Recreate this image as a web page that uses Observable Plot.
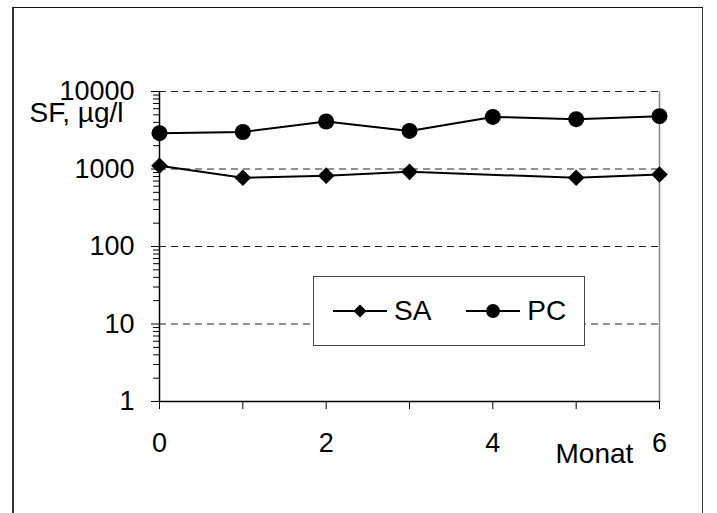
<!DOCTYPE html>
<html>
<head>
<meta charset="utf-8">
<script src="https://cdn.jsdelivr.net/npm/d3@7"></script>
<script src="https://cdn.jsdelivr.net/npm/@observablehq/plot@0.6"></script>
<style>
  html, body { margin: 0; padding: 0; background: #fff; }
  body { width: 717px; height: 513px; position: relative; overflow: hidden;
         font-family: "Liberation Sans", Arial, sans-serif; }
  #frame { position: absolute; left: 12px; top: 7px; width: 691px; height: 520px;
           border-left: 2px solid #333; border-top: 1px solid #111; border-right: 1px solid #333;
           box-sizing: border-box; }
  #chart { position: absolute; left: 0; top: 0; }
  #legend { position: absolute; left: 313px; top: 276px; width: 272px; height: 70px;
            box-sizing: border-box; border: 1px solid #444; background: #fff;
            display: flex; align-items: center; font-size: 28px; color: #000; }
  #legend .item { display: flex; align-items: center; }
  #legend svg { display: block; }
</style>
</head>
<body>
<div id="frame"></div>
<div id="chart"></div>
<div id="legend"></div>
<script>
// Serum ferritin (SF) over six months for two groups, log scale
const months = [0, 1, 2, 3, 4, 5, 6];
const pcValues = [2900, 3000, 4100, 3100, 4700, 4400, 4800];
const saMonths = [0, 1, 2, 3, 5, 6];
const saValues = [1100, 770, 820, 920, 770, 850];

const yMajorTicks = [1, 10, 100, 1000, 10000];
const yGridTicks = [10, 100, 1000, 10000];
const xLabelTicks = [0, 2, 4, 6];
const yLabel = "SF, µg/l";
const xLabel = "Monat";
const seriesNames = ["SA", "PC"];

const pcData = months.map((m, i) => ({month: m, value: pcValues[i]}));
const saData = saMonths.map((m, i) => ({month: m, value: saValues[i]}));
const yMinorTicks = [1, 10, 100, 1000].flatMap(d => d3.range(2, 10).map(k => k * d));

const font = "'Liberation Sans', Arial, sans-serif";
const tickFs = 27;
const titleFs = 28;

const chart = Plot.plot({
  width: 717,
  height: 513,
  marginLeft: 159,
  marginRight: 58,
  marginTop: 91,
  marginBottom: 112,
  style: {fontFamily: font, fontSize: tickFs + "px", color: "#000", background: "transparent", overflow: "visible"},
  x: {domain: [0, 6]},
  y: {type: "log", domain: [1, 10000]},
  marks: [
    Plot.ruleY(yGridTicks, {stroke: "#222", strokeWidth: 1, strokeDasharray: "7,5"}),
    Plot.ruleX([6], {y1: 1, y2: 10000, stroke: "#888", strokeWidth: 1.5}),
    // y axis: minor ticks, major ticks with labels
    Plot.axisY({ticks: yMinorTicks, tickSize: 6, tickFormat: () => "", stroke: "#000", label: null}),
    Plot.axisY({ticks: yMajorTicks, tickSize: 8, tickPadding: 17, tickFormat: d => String(d),
                fontSize: tickFs, fontFamily: font, stroke: "#000", label: null}),
    Plot.text([yLabel], {frameAnchor: "top-left", dx: -36, dy: 11, textAnchor: "end",
                         lineAnchor: "top", fontSize: titleFs, fontFamily: font, fill: "#000"}),
    // x axis: ticks every month, labels every second month
    Plot.axisX({ticks: months, tickSize: 8, tickFormat: () => "", stroke: "#000", label: null}),
    Plot.axisX({ticks: xLabelTicks, tickSize: 0, tickPadding: 31, tickFormat: d => String(d),
                fontSize: tickFs, fontFamily: font, label: null}),
    Plot.text([xLabel], {frameAnchor: "bottom-right", dx: -104, dy: 42, textAnchor: "start",
                         lineAnchor: "top", fontSize: titleFs, fontFamily: font, fill: "#000"}),
    Plot.ruleX([0], {stroke: "#000", strokeWidth: 1.5}),
    Plot.ruleY([1], {stroke: "#000", strokeWidth: 1.5}),
    // series
    Plot.line(saData, {x: "month", y: "value", stroke: "#000", strokeWidth: 2}),
    Plot.dot(saData, {x: "month", y: "value", symbol: "diamond2", r: 7.5, fill: "#000", stroke: "none"}),
    Plot.line(pcData, {x: "month", y: "value", stroke: "#000", strokeWidth: 2}),
    Plot.dot(pcData, {x: "month", y: "value", symbol: "circle", r: 8, fill: "#000", stroke: "none"})
  ]
});
document.getElementById("chart").appendChild(chart);

// Legend: line segment with marker, followed by the series name
const legend = d3.select("#legend");
const symbols = {SA: d3.symbolDiamond2, PC: d3.symbolCircle};
const sizes = {SA: 110, PC: 150};
seriesNames.forEach((name, i) => {
  const item = legend.append("div").attr("class", "item")
    .style("margin-left", i === 0 ? "18px" : "34px");
  const sw = item.append("svg").attr("width", 56).attr("height", 20);
  sw.append("line").attr("x1", 1).attr("x2", 55).attr("y1", 10).attr("y2", 10)
    .attr("stroke", "#000").attr("stroke-width", 2);
  sw.append("path").attr("transform", "translate(28,10)")
    .attr("d", d3.symbol(symbols[name], sizes[name])()).attr("fill", "#000");
  item.append("span").text(name).style("margin-left", "6px");
});
</script>
</body>
</html>
